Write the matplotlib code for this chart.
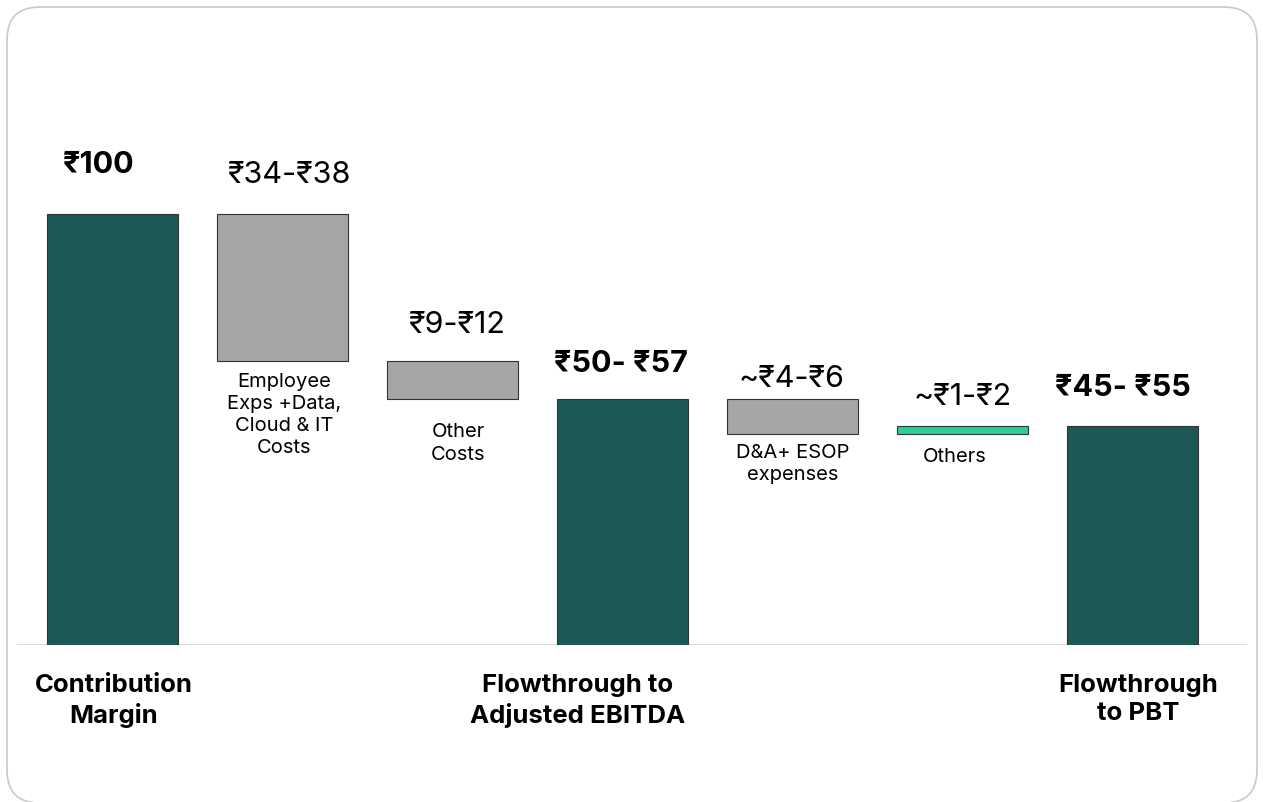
import numpy as np
import matplotlib.pyplot as plt
from matplotlib.patches import FancyBboxPatch

plt.rcParams['font.family'] = ['Inter', 'DejaVu Sans']

# ---------------- dados ----------------
steps = ['Contribution Margin', 'Employee Exps', 'Other Costs', 'Adjusted EBITDA',
         'D&A + ESOP', 'Others', 'PBT']
bar_bottom = [0, 66, 57, 0, 49, 49, 0]
bar_top = [100, 100, 66, 57, 57, 50.8, 50.8]
bar_kind = ['total', 'cost', 'cost', 'total', 'cost', 'plus', 'total']
value_labels = ['₹100', '₹34-₹38', '₹9-₹12', '₹50- ₹57', '~₹4-₹6', '~₹1-₹2', '₹45- ₹55']
desc_labels = ['', 'Employee\nExps +Data,\nCloud & IT\nCosts', 'Other\nCosts', '',
               'D&A+ ESOP\nexpenses', 'Others', '']
bottom_labels = ['Contribution\nMargin', '', '', 'Flowthrough to\nAdjusted EBITDA', '', '',
                 'Flowthrough\nto PBT']

# ---------------- estilo ----------------
cores = {'total': '#1b5856', 'cost': '#a6a6a6', 'plus': '#2ccf98'}
W, H = 1263, 802
fig = plt.figure(figsize=(W / 100, H / 100), dpi=100)

# moldura arredondada
frame = FancyBboxPatch((7 / W, -1 / H), (W - 13) / W, 796 / H,
                       boxstyle='round,pad=0,rounding_size=0.026',
                       transform=fig.transFigure, facecolor='none',
                       edgecolor='#c9c9c9', linewidth=1.2, mutation_aspect=W / H)
fig.patches.append(frame)

base_px = 157          # linha base (px a partir de baixo)
px_per_unit = 4.31
ax = fig.add_axes([0, base_px / H, 1, 1 - base_px / H])
ax.set_ylim(0, (H - base_px) / px_per_unit)
ax.set_xlim(-112.5 / 170, (W - 112.5) / 170)
ax.axis('off')
ax.patch.set_alpha(0)

x = np.arange(len(steps))
heights = np.array(bar_top) - np.array(bar_bottom)
ax.bar(x, heights, bottom=bar_bottom, width=131 / 170,
       color=[cores[k] for k in bar_kind], edgecolor='#333333', linewidth=0.8, zorder=3)

ax.axhline(0, xmin=18 / W, xmax=1245 / W, color='#d9d9d9', linewidth=2, zorder=2)

# rótulos de valor (deslocamentos em px)
val_dx = [-14, 6, 4, -2, -1, 0, -10]
val_dy = [49, 39, 36, 35, 20, 29, 38]
val_bold = [k == 'total' for k in bar_kind]
for i, lab in enumerate(value_labels):
    ax.annotate(lab, (x[i], bar_top[i]), xytext=(val_dx[i] * 0.72, val_dy[i] * 0.72),
                textcoords='offset points', ha='center', va='center',
                fontsize=22, fontweight='bold' if val_bold[i] else 'normal', color='black')

# descrições abaixo das barras de custo
desc_dy = [0, 12, 24, 0, 10, 14, 0]
desc_dx = [0, 2, 6, 0, 0, -8, 0]
for i, lab in enumerate(desc_labels):
    if lab:
        ax.annotate(lab, (x[i], bar_bottom[i]), xytext=(desc_dx[i] * 0.72, -desc_dy[i] * 0.72),
                    textcoords='offset points', ha='center', va='top',
                    fontsize=14.5, linespacing=1.3, color='black')

# rótulos do eixo
bot_dx = [1, 0, 0, -45, 0, 0, 6]
for i, lab in enumerate(bottom_labels):
    if lab:
        ax.annotate(lab, (x[i], 0), xytext=(bot_dx[i] * 0.72, -29 * 0.72),
                    textcoords='offset points', ha='center', va='top',
                    fontsize=18.5, fontweight='bold', linespacing=1.3, color='black')

fig.savefig('out.png', dpi=100)
